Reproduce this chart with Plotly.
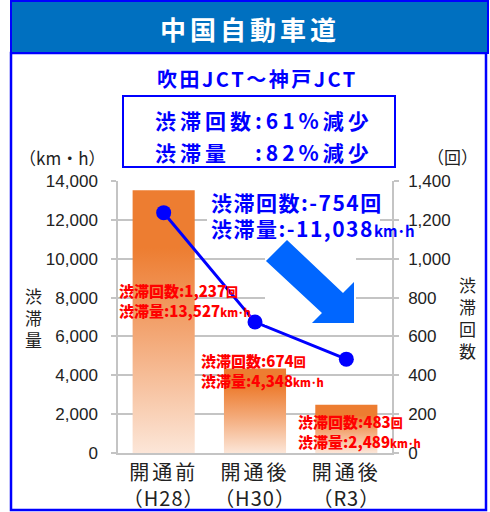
import plotly.graph_objects as go

# --- data -------------------------------------------------------------
stages = ["開通前", "開通後", "開通後"]
periods = ["H28", "H30", "R3"]
jam_volume = [13527, 4348, 2489]   # 渋滞量 (km・h)
jam_count = [1237, 674, 483]       # 渋滞回数 (回)

# --- layout geometry (pixels) -----------------------------------------
W, H = 490, 512
PL, PR, PT, PB = 118, 392, 181, 453   # plot area edges


def px(x):
    return (x - PL) / (PR - PL)


def py(y):
    return (PB - y) / (PB - PT)


def spaced(s, sp):
    """Wrap text in a span with extra letter spacing (px)."""
    return f"<span style='letter-spacing:{sp}px'>{s}</span>"


BLUE = "#0000FF"
JP = "Noto Sans CJK JP"
NUM = "Liberation Sans"
GRID = "#C4C4C4"
UNIT = "km･h"

fig = go.Figure()

# gradient bars (渋滞量) on the left axis
bar_w = 0.68
grad = [[0.0, "#FCE6D8"], [0.45, "#F3A775"], [0.78, "#ED7D31"], [1.0, "#ED7D31"]]
for i, v in enumerate(jam_volume):
    x0, x1 = i - bar_w / 2, i + bar_w / 2
    fig.add_trace(go.Scatter(
        x=[x0, x0, x1, x1, x0], y=[0, v, v, 0, 0],
        mode="lines", fill="toself", line=dict(width=0),
        fillgradient=dict(type="vertical", colorscale=grad),
        hoverinfo="skip", showlegend=False, yaxis="y"))

# 渋滞回数 line on the right axis
fig.add_trace(go.Scatter(
    x=list(range(len(jam_count))), y=jam_count, mode="lines+markers",
    line=dict(color=BLUE, width=3), marker=dict(size=15, color=BLUE),
    showlegend=False, yaxis="y2"))

xticks = [spaced(s, 3) + "<br>" + spaced(f"（{p}）", 1) for s, p in zip(stages, periods)]

fig.update_layout(
    width=W, height=H, autosize=False,
    margin=dict(l=PL, r=W - PR, t=PT, b=H - PB, pad=0, autoexpand=False),
    paper_bgcolor="white", plot_bgcolor="white",
    separators=".,",
    xaxis=dict(range=[-0.5, len(stages) - 0.5], tickvals=list(range(len(stages))),
               ticktext=xticks, showgrid=False, zeroline=False,
               showline=True, linecolor=GRID, linewidth=1.5,
               tickfont=dict(family=JP, size=20, color="#222222"),
               ticks="", ticklabelstandoff=1, automargin=False, fixedrange=True),
    yaxis=dict(range=[0, 14000], dtick=2000, tickformat=",d",
               showgrid=True, gridcolor=GRID, gridwidth=1.5, zeroline=False,
               showline=True, linecolor=GRID, linewidth=1.5,
               ticks="outside", ticklen=5, tickcolor=GRID, tickwidth=1.5,
               tickfont=dict(family=NUM, size=17, color="#222222"),
               ticklabelstandoff=10, automargin=False, fixedrange=True),
    yaxis2=dict(range=[0, 1400], dtick=200, tickformat=",d", overlaying="y",
                side="right", showgrid=False, zeroline=False,
                showline=True, linecolor=GRID, linewidth=1.5,
                ticks="outside", ticklen=5, tickcolor=GRID, tickwidth=1.5,
                tickfont=dict(family=NUM, size=17, color="#222222"),
                ticklabelstandoff=6, automargin=False, fixedrange=True),
)

shapes = []
# outer frame and header bar
shapes.append(dict(type="rect", xref="paper", yref="paper",
                   x0=px(11), x1=px(486), y0=py(510), y1=py(53),
                   line=dict(color=BLUE, width=2.5), fillcolor="rgba(0,0,0,0)"))
shapes.append(dict(type="rect", xref="paper", yref="paper",
                   x0=px(11), x1=px(488), y0=py(53), y1=py(1),
                   line=dict(color=BLUE, width=2), fillcolor="#0070C0"))
# summary box
shapes.append(dict(type="rect", xref="paper", yref="paper",
                   x0=px(123), x1=px(395), y0=py(167), y1=py(96),
                   line=dict(color=BLUE, width=2), fillcolor="white"))
# white backing behind the change callout and arrow
shapes.append(dict(type="rect", xref="paper", yref="paper", layer="above",
                   x0=px(207), x1=px(380), y0=py(240), y1=py(186),
                   line=dict(width=0), fillcolor="white"))
shapes.append(dict(type="rect", xref="paper", yref="paper", layer="above",
                   x0=px(265), x1=px(356), y0=py(325), y1=py(240),
                   line=dict(width=0), fillcolor="white"))
# downward arrow
arrow_pts = [(266, 261), (287, 240), (343, 293), (354, 282), (354, 323),
             (312, 323), (322, 313)]
path = "M " + " L ".join(f"{px(x):.4f},{py(y):.4f}" for x, y in arrow_pts) + " Z"
shapes.append(dict(type="path", xref="paper", yref="paper", layer="above",
                   path=path, fillcolor="#0066FF", line=dict(width=0)))
fig.update_layout(shapes=shapes)

ann = []


def text(x, y, s, size, color="#222222", family=JP, xanchor="center", weight=None, **kw):
    font = dict(family=family, size=size, color=color)
    if weight:
        font["weight"] = weight
    ann.append(dict(x=px(x), y=py(y), xref="paper", yref="paper", text=s,
                    showarrow=False, xanchor=xanchor, yanchor="middle",
                    font=font, **kw))


text(250, 28, spaced("中国自動車道", 4), 26, color="white", weight="bold")
text(257, 78, spaced("吹田JCT～神戸JCT", 2.5), 20, color=BLUE, weight="bold")

pct_count = round((1 - jam_count[-1] / jam_count[0]) * 100)
pct_volume = round((1 - jam_volume[-1] / jam_volume[0]) * 100)
text(153, 120, spaced(f"渋滞回数:{pct_count}%減少", 4), 21, color=BLUE,
     xanchor="left", weight="bold")
text(153, 152, spaced(f"渋滞量　:{pct_volume}%減少", 4), 21, color=BLUE,
     xanchor="left", weight="bold")

d_count = jam_count[-1] - jam_count[0]
d_volume = jam_volume[-1] - jam_volume[0]
text(209, 202, spaced(f"渋滞回数:{d_count:,}回", 1.5), 21, color=BLUE,
     xanchor="left", weight="bold")
text(209, 228, spaced(f"渋滞量:{d_volume:,}", 1.5) + f"<span style='font-size:15px'>{UNIT}</span>",
     21, color=BLUE, xanchor="left", weight="bold")

# per-stage value labels
label_pos = [(117, 300), (199, 370), (296, 431)]
for (lx, ly), c, v in zip(label_pos, jam_count, jam_volume):
    s = (f"渋滞回数:{c:,}<span style='font-size:12px'>回</span><br>"
         f"渋滞量:{v:,}<span style='font-size:11px'>{UNIT}</span>")
    text(lx, ly, s, 15, color="#FF0000", xanchor="left", align="left", weight=900)

# axis titles
text(62, 157, "（km・h）", 17)
text(452, 156, "（回）", 17)
text(33, 317, "渋<br>滞<br>量", 17)
text(467, 317, "渋<br>滞<br>回<br>数", 17)

fig.update_layout(annotations=ann)

fig.write_html("out.html")
